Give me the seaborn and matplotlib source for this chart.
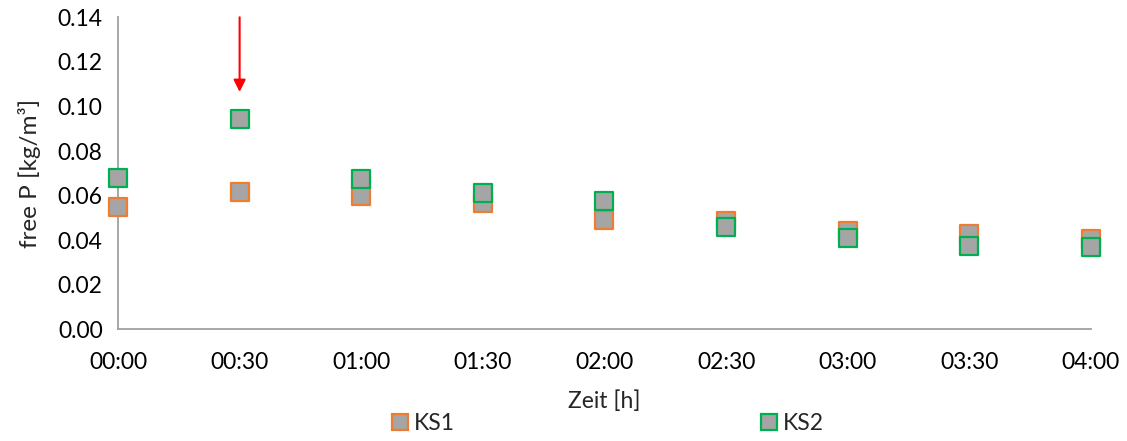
import matplotlib
matplotlib.use('Agg')
import matplotlib.pyplot as plt
import seaborn as sns
import pandas as pd
from matplotlib.lines import Line2D

# data
minutes = [0, 30, 60, 90, 120, 150, 180, 210, 240]
time_labels = ["00:00", "00:30", "01:00", "01:30", "02:00", "02:30", "03:00", "03:30", "04:00"]
ks1 = [0.0549, 0.0616, 0.0598, 0.0567, 0.0490, 0.0488, 0.0443, 0.0428, 0.0405]
ks2 = [0.0679, 0.0944, 0.0673, 0.0610, 0.0576, 0.0460, 0.0411, 0.0374, 0.0371]
arrow_x = 30
arrow_from = 0.14
arrow_to = 0.1065

sns.set_style("white")
plt.rcParams['font.family'] = ['Lato', 'DejaVu Sans']

fill = '#A5A5A5'
edge_ks1 = '#ED7D31'
edge_ks2 = '#00B050'
axis_grey = '#A0A0A0'
fs = 16.5

df = pd.DataFrame({"t": minutes * 2,
                   "P": ks1 + ks2,
                   "serie": ["KS1"] * len(ks1) + ["KS2"] * len(ks2)})

fig = plt.figure(figsize=(11.27, 4.41), dpi=100)
ax = fig.add_axes([0.1047, 0.2533, 0.8633, 0.7075])

for name, ec in [("KS1", edge_ks1), ("KS2", edge_ks2)]:
    sub = df[df["serie"] == name]
    sns.scatterplot(data=sub, x="t", y="P", ax=ax, marker='s', s=185,
                    color=fill, edgecolor=ec, linewidth=1.6, clip_on=False,
                    zorder=3, legend=False)

ax.annotate("", xy=(arrow_x, arrow_to), xytext=(arrow_x, arrow_from),
            arrowprops=dict(arrowstyle='-|>', color='red', lw=1.5,
                            mutation_scale=18, shrinkA=0, shrinkB=0),
            annotation_clip=False)

ax.set_xlim(0, 240)
ax.set_ylim(0, 0.14)
ax.set_xticks(minutes)
ax.set_xticklabels(time_labels)
yt = [0, 0.02, 0.04, 0.06, 0.08, 0.10, 0.12, 0.14]
ax.set_yticks(yt)
ax.set_yticklabels([f"{v:.2f}" for v in yt])

for s in ['top', 'right']:
    ax.spines[s].set_visible(False)
for s in ['left', 'bottom']:
    ax.spines[s].set_color(axis_grey)
    ax.spines[s].set_linewidth(1.3)
ax.tick_params(axis='both', direction='out', length=6, width=1.3, color=axis_grey,
               labelsize=fs, labelcolor='black')
ax.tick_params(axis='x', pad=10)
ax.tick_params(axis='y', pad=5)

ax.set_xlabel("Zeit [h]", fontsize=fs, labelpad=13)
ax.set_ylabel("free P [kg/m³]", fontsize=17.5, labelpad=12)

handles = [Line2D([], [], linestyle='none', marker='s', markersize=12,
                  markerfacecolor=fill, markeredgecolor=ec, markeredgewidth=1.6, label=lab)
           for lab, ec in [("KS1", edge_ks1), ("KS2", edge_ks2)]]
fig.legend(handles=handles, loc='lower center', bbox_to_anchor=(0.538, -0.03), ncol=2,
           frameon=False, fontsize=fs, columnspacing=13.2, handletextpad=0.1,
           handlelength=1.0)

fig.savefig("out.png", dpi=100)
